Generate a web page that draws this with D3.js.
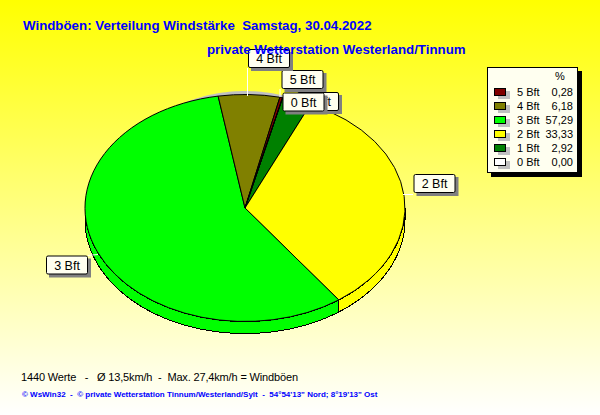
<!DOCTYPE html>
<html><head><meta charset="utf-8">
<script src="https://cdnjs.cloudflare.com/ajax/libs/d3/7.8.5/d3.min.js"></script>
<style>html,body{margin:0;padding:0;background:#fff}svg{display:block}text{font-family:"Liberation Sans",Arial,sans-serif}</style>
</head><body><div id="c"></div>
<script>
const categories=["1 Bft","2 Bft","3 Bft","4 Bft","5 Bft","0 Bft"];
const values=[2.92,33.33,57.29,6.18,0.28,0.00];
const colours=["#008000","#ffff00","#00ff00","#808000","#800000","#ffffff"];
const legendOrder=["5 Bft","4 Bft","3 Bft","2 Bft","1 Bft","0 Bft"];
const legendText=["0,28","6,18","57,29","33,33","2,92","0,00"];
const labelOrder=["1 Bft","0 Bft","5 Bft","4 Bft","2 Bft","3 Bft"];
const W=600,H=415,cx=245,cy=208,rx=160,ry=113.5,depth=12;
const svg=d3.select("#c").append("svg").attr("width",W).attr("height",H);
const defs=svg.append("defs");
const g=defs.append("linearGradient").attr("id","bg").attr("x1",0).attr("y1",0).attr("x2",0).attr("y2",1);
g.append("stop").attr("offset","0").attr("stop-color","#ffff00");
g.append("stop").attr("offset","1").attr("stop-color","#ffffff");
svg.append("rect").attr("width",W).attr("height",H).attr("fill","url(#bg)");

const start=13.6*Math.PI/180;
const pie=d3.pie().sort(null).value(d=>d).startAngle(start).endAngle(start+2*Math.PI);
const arcs=pie(values);
const px=a=>cx+rx*Math.sin(a), py=a=>cy-ry*Math.cos(a);

// grey rim behind the top
const rimEnd=0.40;
const rim=d3.range(-rimEnd,rimEnd+0.001,0.02);
svg.append("path").attr("fill","#c0c0c0")
 .attr("d",d3.line()(rim.map(a=>[px(a),py(a)-3.5*(1-(a/rimEnd)*(a/rimEnd))]))+"Z");

const pieLayer=svg.append("g").attr("shape-rendering","crispEdges");
// side wall, visible lower half
arcs.forEach((a,i)=>{
  const lo=Math.max(a.startAngle,Math.PI/2),hi=Math.min(a.endAngle,3*Math.PI/2);
  if(hi<=lo)return;
  const s=d3.range(lo,hi,0.01).concat([hi]);
  const top=s.map(t=>[px(t),py(t)]);
  const bot=s.slice().reverse().map(t=>[px(t),py(t)+depth]);
  pieLayer.append("path").attr("d",d3.line()(top.concat(bot))+"Z").attr("fill",colours[i]).attr("stroke","#000").attr("stroke-width",1);
});
// top surface
const arc=d3.arc().innerRadius(0).outerRadius(1);
const pg=pieLayer.append("g").attr("transform",`translate(${cx},${cy}) scale(${rx},${ry})`);
pg.selectAll("path").data(arcs).join("path").attr("d",arc).attr("fill",(d,i)=>colours[i])
 .attr("stroke","#000").attr("stroke-width",1).attr("vector-effect","non-scaling-stroke");

// callouts
const lab={"4 Bft":[269,58.5],"5 Bft":[302.5,79.5],"1 Bft":[318,101.5],"0 Bft":[303.5,102],"2 Bft":[434.5,183.5],"3 Bft":[67,265]};
const boxW=42,boxH=19;
function callout(name){
  const [x,y]=lab[name];
  svg.append("rect").attr("x",x-boxW/2+3).attr("y",y-boxH/2+3).attr("width",boxW).attr("height",boxH).attr("fill","#808080");
  svg.append("rect").attr("x",x-boxW/2+.5).attr("y",y-boxH/2+.5).attr("width",boxW-1).attr("height",boxH-1).attr("rx",1.5).attr("fill","#fffff0").attr("stroke","#000");
  svg.append("text").attr("x",x).attr("y",y+4.5).attr("text-anchor","middle").attr("font-size",12.5).attr("fill","#000").text(name);
}
const leader=(x1,y1,x2,y2)=>svg.append("line").attr("x1",x1).attr("y1",y1).attr("x2",x2).attr("y2",y2).attr("stroke","#fff");
leader(247.5,68,247.5,96);leader(280,89,280,97);leader(403,194.5,413,194.5);leader(88,255.5,98,254.5);
labelOrder.forEach(callout);

// legend
const lx=487,ly=67,lw=91,lh=106;
svg.append("rect").attr("x",lx+4).attr("y",ly+4).attr("width",lw).attr("height",lh).attr("fill","#000");
svg.append("rect").attr("x",lx+.5).attr("y",ly+.5).attr("width",lw-1).attr("height",lh-1).attr("fill","#fffff0").attr("stroke","#000");
svg.append("text").attr("x",560).attr("y",80).attr("text-anchor","middle").attr("font-size",11).text("%");
const ys=d3.scalePoint().domain(legendOrder).range([92,162]);
legendOrder.forEach((n,i)=>{
  const y=ys(n),c=colours[categories.indexOf(n)];
  svg.append("rect").attr("x",498).attr("y",y-1).attr("width",12).attr("height",8).attr("fill","#c0c0c0");
  svg.append("rect").attr("x",494.5).attr("y",y-3.5).attr("width",11).attr("height",7).attr("fill",c).attr("stroke","#000");
  svg.append("text").attr("x",517).attr("y",y+4).attr("font-size",11).text(n);
  svg.append("text").attr("x",573).attr("y",y+4).attr("text-anchor","end").attr("font-size",11).text(legendText[i]);
});

// titles
svg.append("text").attr("x",23).attr("y",30).attr("font-size",13.3).attr("font-weight","bold").attr("fill","#0000ff").attr("xml:space","preserve").text("Windböen: Verteilung Windstärke  Samstag, 30.04.2022");
svg.append("text").attr("x",207).attr("y",54).attr("font-size",13.3).attr("font-weight","bold").attr("fill","#0000ff").text("private Wetterstation Westerland/Tinnum");
svg.append("text").attr("x",21).attr("y",381).attr("font-size",11).attr("fill","#000").attr("xml:space","preserve").attr("textLength",277).text("1440 Werte   -   Ø 13,5km/h  -  Max. 27,4km/h = Windböen");
svg.append("text").attr("x",22).attr("y",397).attr("font-size",8).attr("font-weight","bold").attr("fill","#0000ff").attr("xml:space","preserve").text("© WsWin32  -  © private Wetterstation Tinnum/Westerland/Sylt  -  54°54'13\" Nord; 8°19'13\" Ost");
</script></body></html>
